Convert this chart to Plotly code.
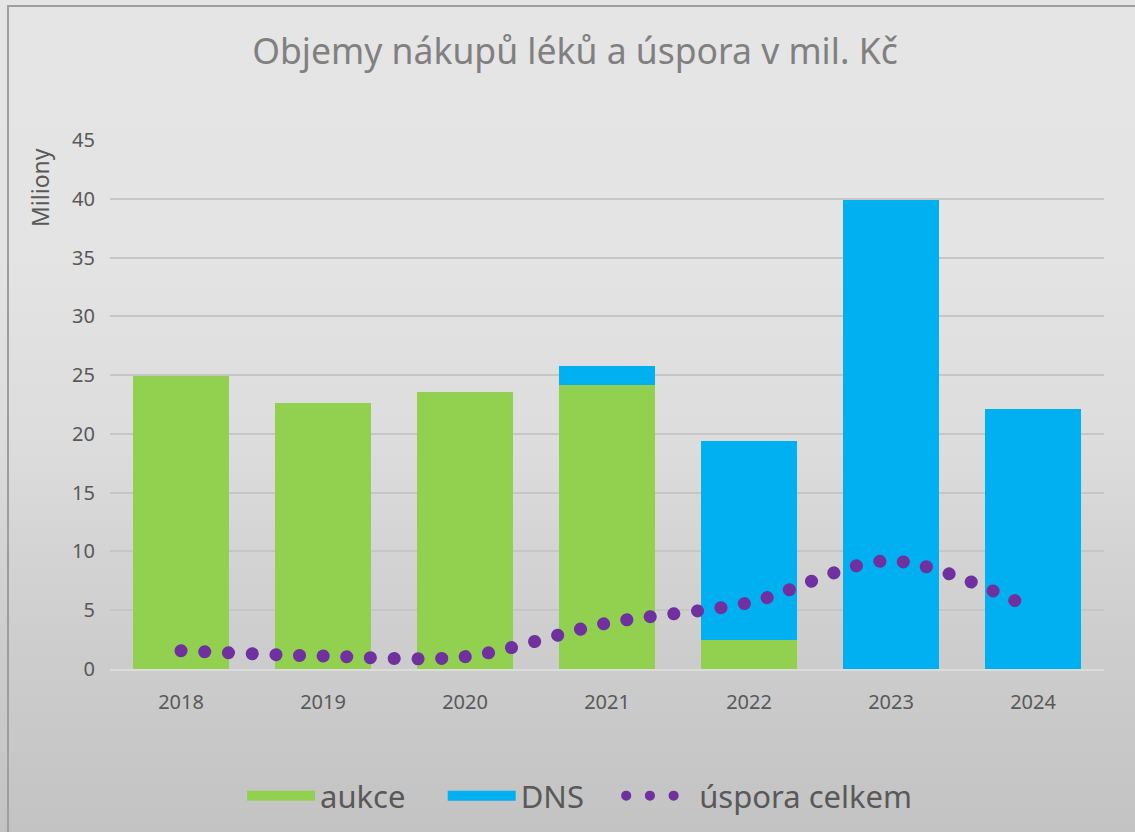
import plotly.graph_objects as go

years = ["2018", "2019", "2020", "2021", "2022", "2023", "2024"]
aukce = [24.9, 22.65, 23.55, 24.15, 2.45, 0, 0]
dns = [0, 0, 0, 1.6, 16.95, 39.9, 22.1]
uspora = [1.55, 1.1, 1.05, 3.9, 5.65, 9.2, 5.1]
legend_names = ["aukce", "DNS", "úspora celkem"]

GREEN = "#92D050"
BLUE = "#00B0F0"
PURPLE = "#7030A0"
FONT = "Noto Sans"

W, H = 1135, 832
L, R, T, B = 110, 1104, 140, 669  # plot area in pixels


def px_x(px):
    return (px - L) / (R - L)


def px_y(py):
    return (B - py) / (B - T)


PAD = "\u00a0" * 4

fig = go.Figure()
fig.add_trace(go.Bar(x=years, y=aukce, name=legend_names[0], marker=dict(color=GREEN, line=dict(width=0)),
                     showlegend=False, legendgroup="a"))
fig.add_trace(go.Bar(x=years, y=dns, name=legend_names[1], marker=dict(color=BLUE, line=dict(width=0)),
                     showlegend=False, legendgroup="d"))
fig.add_trace(go.Scatter(x=years, y=uspora, name=legend_names[2], mode="lines", showlegend=False,
                         line=dict(color=PURPLE, width=13, shape="spline", smoothing=0.9, dash="0.1px,23.6px"),
                         legendgroup="u"))
# legend swatches
fig.add_trace(go.Scatter(x=[None], y=[None], mode="lines", name=legend_names[0] + PAD, legendgroup="a",
                         line=dict(color=GREEN, width=18)))
fig.add_trace(go.Scatter(x=[None], y=[None], mode="lines", name=legend_names[1] + PAD, legendgroup="d",
                         line=dict(color=BLUE, width=18)))
fig.add_trace(go.Scatter(x=[None], y=[None], mode="lines", name=legend_names[2], legendgroup="u",
                         line=dict(color=PURPLE, width=13, dash="0.1px,23.6px")))

# background gradient bands
stops = [(0, 229), (250, 228), (450, 220), (560, 211), (650, 205), (832, 195)]


def shade(py):
    for (a, va), (b, vb) in zip(stops[:-1], stops[1:]):
        if a <= py <= b:
            return va + (vb - va) * (py - a) / (b - a)
    return stops[-1][1]


shapes = []
step = 8
for py in range(0, H, step):
    v = int(round(shade(py + step / 2)))
    shapes.append(dict(type="rect", xref="paper", yref="paper", layer="below",
                       x0=px_x(-5), x1=px_x(W + 5), y0=px_y(py + step + 0.5), y1=px_y(py),
                       fillcolor=f"rgb({v},{v},{v})", line=dict(width=0)))
shapes.append(dict(type="rect", xref="paper", yref="paper", layer="below",
                   x0=px_x(8), x1=px_x(W + 20), y0=px_y(H + 20), y1=px_y(6),
                   fillcolor="rgba(0,0,0,0)", line=dict(color="#9e9e9e", width=2)))

fig.update_layout(
    width=W, height=H,
    margin=dict(l=L, r=W - R, t=T, b=H - B, pad=0, autoexpand=False),
    paper_bgcolor="rgb(229,229,229)",
    plot_bgcolor="rgba(0,0,0,0)",
    barmode="stack", bargap=0.33,
    font=dict(family=FONT, color="#595959"),
    title=dict(text="Objemy nákupů léků a úspora v mil. Kč", x=575 / W, xref="container", xanchor="center",
               y=1 - 52 / H, yref="container", yanchor="middle",
               font=dict(family=FONT, size=35.5, color="#808080")),
    xaxis=dict(showgrid=False, ticks="", showline=True, linecolor="#dcdcdc", linewidth=2,
               tickfont=dict(size=20, color="#595959"), ticklabelstandoff=14, fixedrange=True),
    yaxis=dict(range=[0, 45], dtick=5, showgrid=True, gridcolor="#c6c6c6", gridwidth=1.5,
               zeroline=False, ticks="", tickfont=dict(size=20, color="#595959"),
               ticklabelstandoff=14, fixedrange=True),
    legend=dict(orientation="h", x=px_x(580), xanchor="center", y=px_y(796), yanchor="middle",
                font=dict(size=31, color="#595959"), itemwidth=68, bgcolor="rgba(0,0,0,0)",
                traceorder="normal", itemclick=False, itemdoubleclick=False),
    shapes=shapes,
    annotations=[dict(text="Miliony", textangle=-90, xref="paper", yref="paper",
                      x=px_x(40), y=px_y(188), showarrow=False, xanchor="center", yanchor="middle",
                      font=dict(size=23, color="#595959"))],
)

post = """
document.body.style.margin='0';
var gd=document.getElementById('{plot_id}');
function fixCaps(){
  document.querySelectorAll('path.js-line').forEach(function(p){
    var d=p.style.strokeDasharray;
    if(d && d!=='none' && d!==''){ p.style.strokeLinecap='round'; }
  });
}
fixCaps();
gd.on('plotly_afterplot', fixCaps);
"""

fig.write_html("out.html", post_script=post, config={"displayModeBar": False})
